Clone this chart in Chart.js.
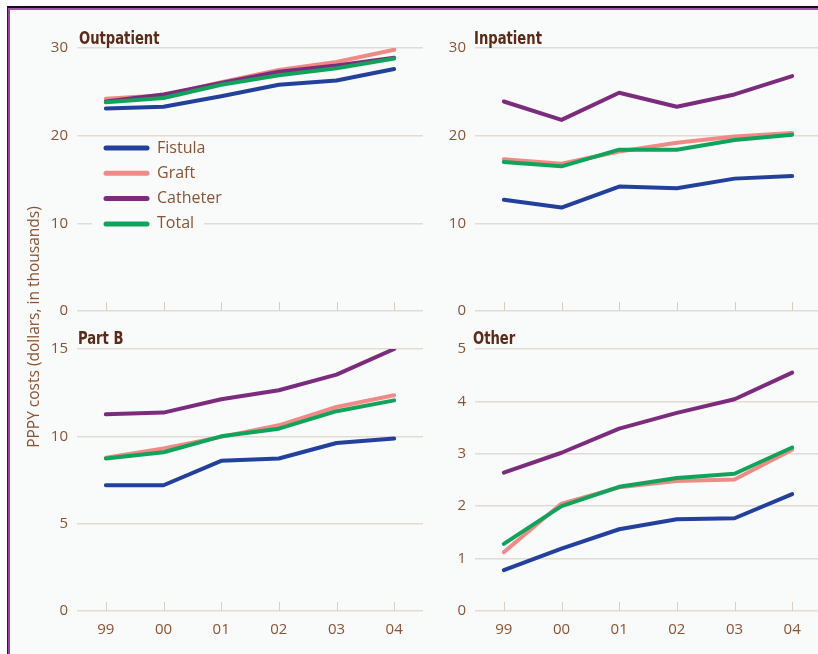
<!DOCTYPE html>
<html lang="en">
    <head>
        <meta charset="utf-8" />
        <script src="https://cdnjs.cloudflare.com/ajax/libs/Chart.js/4.4.1/chart.umd.min.js"></script>
        <title>PPPY costs by access type</title>
        <style>
            html, body { margin: 0; padding: 0; width: 818px; height: 654px; overflow: hidden; background: #ffffff; }
            .marco { position: absolute; left: 7px; top: 6px; right: 0; bottom: 0; border-top: 2px solid #1e0a1e; border-left: 1px solid #3a1440; }
            .marco2 { position: absolute; left: 0; top: 0; right: 0; bottom: 0; border-top: 2px solid #a458a4; border-left: 2px solid #94449a; background: #f9fafa; }
            canvas { position: absolute; }
            .titulo { position: absolute; font-family: "Liberation Sans Narrow", "DejaVu Sans Condensed", sans-serif; font-weight: bold; font-size: 17px; line-height: 1; color: #5c2a18; transform: scaleX(0.86); transform-origin: left top; }
            .ejeY { position: absolute; left: -117px; top: 317px; width: 300px; height: 20px; line-height: 20px; text-align: center; transform: rotate(-90deg); font-family: "Open Sans", sans-serif; font-size: 15.5px; color: #8a5434; }
        </style>
    </head>
    <body>
        <div class="marco"><div class="marco2"></div></div>
        <canvas id="ambulatorio" width="386" height="283" style="left:37px; top:38px;"></canvas>
        <canvas id="hospital" width="386" height="283" style="left:435px; top:38px;"></canvas>
        <canvas id="parteB" width="386" height="302" style="left:37px; top:339px;"></canvas>
        <canvas id="otros" width="386" height="302" style="left:435px; top:339px;"></canvas>
        <div class="titulo" style="left:79px; top:30px;">Outpatient</div>
        <div class="titulo" style="left:474px; top:30px;">Inpatient</div>
        <div class="titulo" style="left:78px; top:330px;">Part B</div>
        <div class="titulo" style="left:473px; top:330px;">Other</div>
        <div class="ejeY">PPPY costs (dollars, in thousands)</div>
        <script>
            // categorias y series
            const anios = ["99", "00", "01", "02", "03", "04"];
            const nombres = ["Fistula", "Graft", "Catheter", "Total"];
            const colores = ["#22409c", "#f08a86", "#7c2c7c", "#10a35c"];

            const ambFistula = [23.1, 23.3, 24.5, 25.8, 26.3, 27.6];
            const ambGraft = [24.2, 24.6, 26.1, 27.5, 28.4, 29.8];
            const ambCatheter = [23.9, 24.7, 26.0, 27.3, 28.0, 28.9];
            const ambTotal = [23.8, 24.3, 25.8, 26.9, 27.7, 28.8];

            const hospFistula = [12.7, 11.8, 14.2, 14.0, 15.1, 15.4];
            const hospGraft = [17.3, 16.8, 18.2, 19.2, 19.9, 20.3];
            const hospCatheter = [23.9, 21.8, 24.9, 23.3, 24.7, 26.8];
            const hospTotal = [17.0, 16.5, 18.4, 18.4, 19.5, 20.1];

            const partBFistula = [7.2, 7.2, 8.6, 8.73, 9.62, 9.87];
            const partBGraft = [8.77, 9.3, 9.97, 10.63, 11.68, 12.35];
            const partBCatheter = [11.26, 11.36, 12.12, 12.64, 13.53, 15.0];
            const partBTotal = [8.73, 9.09, 10.0, 10.44, 11.44, 12.06];

            const otrosFistula = [0.78, 1.19, 1.56, 1.75, 1.77, 2.23];
            const otrosGraft = [1.12, 2.05, 2.36, 2.48, 2.51, 3.08];
            const otrosCatheter = [2.64, 3.02, 3.48, 3.78, 4.04, 4.55];
            const otrosTotal = [1.28, 2.0, 2.37, 2.54, 2.62, 3.12];

            const colorTexto = "#8a5434";
            const colorGrilla = "#e4dcd4";
            const ordenes = [4, 3, 2, 1];

            //marcas verticales sobre la linea del cero
            const marcas = {
                id: "marcas",
                beforeDatasetsDraw(chart) {
                    const ctx = chart.ctx;
                    const x = chart.scales.x;
                    const abajo = chart.chartArea.bottom;
                    ctx.save();
                    ctx.strokeStyle = "#d8cec4";
                    ctx.lineWidth = 1;
                    anios.forEach((a, i) => {
                        const px = Math.round(x.getPixelForValue(i)) + 0.5;
                        ctx.beginPath();
                        ctx.moveTo(px, abajo - 9);
                        ctx.lineTo(px, abajo);
                        ctx.stroke();
                    });
                    ctx.restore();
                }
            };

            //leyenda dentro del primer panel
            const leyenda = {
                id: "leyendaInterna",
                afterDraw(chart, args, opts) {
                    if (!opts.mostrar) return;
                    const ctx = chart.ctx;
                    const izq = chart.chartArea.left;
                    const arriba = chart.chartArea.top;
                    ctx.save();
                    ctx.fillStyle = "#f9fafa";
                    ctx.fillRect(izq + 15, arriba + 90, 112, 98);
                    chart.data.datasets.forEach((d, i) => {
                        const y = arriba + 100 + i * 25.3;
                        ctx.strokeStyle = d.borderColor;
                        ctx.lineWidth = 5;
                        ctx.lineCap = "round";
                        ctx.beginPath();
                        ctx.moveTo(izq + 29, y);
                        ctx.lineTo(izq + 70, y);
                        ctx.stroke();
                        ctx.fillStyle = colorTexto;
                        ctx.font = "16px 'Open Sans'";
                        ctx.textBaseline = "middle";
                        ctx.fillText(d.label, izq + 80, y);
                    });
                    ctx.restore();
                }
            };

            function panel(id, series, maxY, pasoY, conEjeX, conLeyenda) {
                new Chart(document.getElementById(id), {
                    type: "line",
                    data: {
                        labels: anios,
                        datasets: series.map((s, i) => ({
                            label: nombres[i],
                            data: s,
                            borderColor: colores[i],
                            borderWidth: 4,
                            pointRadius: 0,
                            tension: 0,
                            order: ordenes[i],
                            borderCapStyle: "round",
                            borderJoinStyle: "round"
                        }))
                    },
                    options: {
                        responsive: false,
                        animation: false,
                        devicePixelRatio: 1,
                        layout: { padding: { top: 10, bottom: conEjeX ? 0 : 10, left: 0, right: 0 } },
                        plugins: {
                            legend: { display: false },
                            tooltip: { enabled: false },
                            leyendaInterna: { mostrar: conLeyenda }
                        },
                        scales: {
                            x: {
                                offset: true,
                                grid: { display: false, drawTicks: false },
                                border: { display: false },
                                ticks: { display: conEjeX, padding: 10, color: colorTexto, font: { family: "Open Sans", size: 15 } },
                                afterFit: (s) => {
                                    s.height = conEjeX ? 30 : 0;
                                    s.paddingLeft = 0;
                                    s.paddingRight = 0;
                                }
                            },
                            y: {
                                min: 0,
                                max: maxY,
                                ticks: { stepSize: pasoY, padding: 9, color: colorTexto, font: { family: "Open Sans", size: 15 } },
                                grid: { color: colorGrilla, drawTicks: false, lineWidth: 1.5 },
                                border: { display: false },
                                afterFit: (s) => {
                                    s.width = 40;
                                    s.paddingTop = 0;
                                    s.paddingBottom = 0;
                                }
                            }
                        }
                    },
                    plugins: [marcas, leyenda]
                });
            }

            panel("ambulatorio", [ambFistula, ambGraft, ambCatheter, ambTotal], 30, 10, false, true);
            panel("hospital", [hospFistula, hospGraft, hospCatheter, hospTotal], 30, 10, false, false);
            panel("parteB", [partBFistula, partBGraft, partBCatheter, partBTotal], 15, 5, true, false);
            panel("otros", [otrosFistula, otrosGraft, otrosCatheter, otrosTotal], 5, 1, true, false);
        </script>
    </body>
</html>
